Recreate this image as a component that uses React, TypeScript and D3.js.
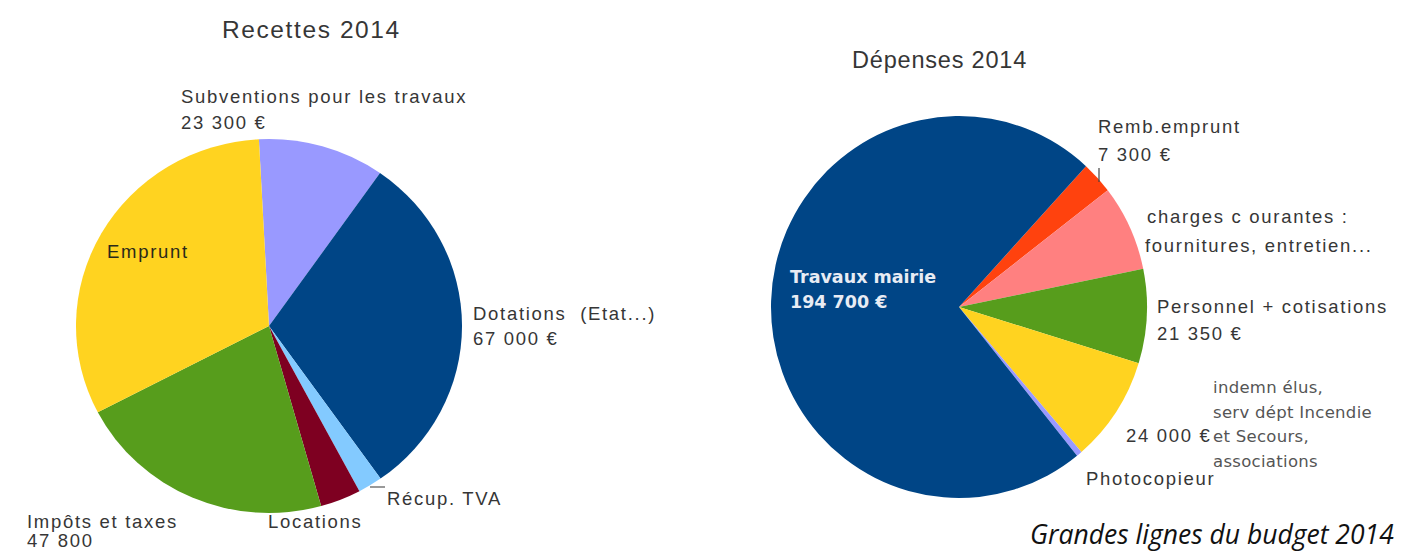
import React from "react";
import * as d3 from "d3";

const recettesCategories = ["Subventions pour les travaux", "Dotations (Etat...)", "Récup. TVA", "Locations", "Impôts et taxes", "Emprunt"];
const recettesValues = [23300, 67000, 4500, 7500, 47800, 70000];
const recettesColors = ["#9999ff", "#004586", "#83caff", "#7e0021", "#579d1c", "#ffd320"];

const depensesCategories = ["Remb.emprunt", "charges courantes", "Personnel + cotisations", "indemn élus, serv dépt Incendie et Secours, associations", "Photocopieur", "Travaux mairie"];
const depensesValues = [7300, 19500, 21350, 24000, 1300, 194700];
const depensesColors = ["#ff420e", "#ff8080", "#579d1c", "#ffd320", "#9999ff", "#004586"];

const LBL = "'Liberation Sans', Arial, sans-serif";
const LS = 1.7;
const FS = 18.5;
const TXT = "#363636";
const DJ = "'DejaVu Sans', sans-serif";

type PieProps = { values: number[]; colors: string[]; cx: number; cy: number; rx: number; ry: number; startDeg: number };

function Pie({ values, colors, cx, cy, rx, ry, startDeg }: PieProps) {
  const start = (startDeg * Math.PI) / 180;
  const pie = d3.pie<number>().sort(null).startAngle(start).endAngle(start + 2 * Math.PI);
  const arc = d3.arc<d3.PieArcDatum<number>>().innerRadius(0).outerRadius(rx);
  const arcs = pie(values);
  return (
    <g transform={`translate(${cx},${cy}) scale(1,${ry / rx})`}>
      {arcs.map((a, i) => (
        <path key={i} d={arc(a) || ""} fill={colors[i]} />
      ))}
    </g>
  );
}

function T({ x, y, children, size = FS, fill = TXT, family = LBL, ls = LS, weight = "normal", style = "normal" }: any) {
  return (
    <text x={x} y={y} fontSize={size} fill={fill} fontFamily={family} letterSpacing={ls} fontWeight={weight} fontStyle={style} style={{ whiteSpace: "pre" }}>
      {children}
    </text>
  );
}

export default function App() {
  return (
    <svg width={1401} height={553} style={{ position: "absolute", left: 0, top: 0, background: "#fff" }}>
      <rect width={1401} height={553} fill="#fff" />
      {/* Recettes */}
      <T x={222} y={38} size={24.5} ls={1.6}>Recettes 2014</T>
      <Pie values={recettesValues} colors={recettesColors} cx={269} cy={326} rx={193} ry={187} startDeg={-3} />
      <T x={181} y={103}>Subventions pour les travaux</T>
      <T x={181} y={129}>23 300 €</T>
      <T x={107} y={258} fill="#2a2a1a">Emprunt</T>
      <T x={473} y={320}>{"Dotations\u00a0 (Etat...)"}</T>
      <T x={473} y={345}>67 000 €</T>
      <line x1={370} y1={487} x2={385} y2={487} stroke="#555" strokeWidth={1.2} />
      <T x={387} y={505}>Récup. TVA</T>
      <T x={268} y={528}>Locations</T>
      <T x={27} y={528}>Impôts et taxes</T>
      <T x={27} y={547}>47 800</T>

      {/* Dépenses */}
      <T x={852} y={68} size={23.5} ls={0.8}>Dépenses 2014</T>
      <Pie values={depensesValues} colors={depensesColors} cx={959} cy={307} rx={188} ry={191} startDeg={42.5} />
      <T x={790} y={283} size={17.5} fill="#e8ecf4" family={DJ} weight="bold" ls={0}>Travaux mairie</T>
      <T x={790} y={308} size={17.5} fill="#e8ecf4" family={DJ} weight="bold" ls={0}>194 700 €</T>
      <T x={1098} y={133}>Remb.emprunt</T>
      <T x={1098} y={161}>7 300 €</T>
      <line x1={1099} y1={168} x2={1099} y2={182} stroke="#444" strokeWidth={1.2} />
      <T x={1147} y={223}>charges c ourantes :</T>
      <T x={1145} y={252}>fournitures, entretien...</T>
      <T x={1157} y={313}>Personnel + cotisations</T>
      <T x={1157} y={340}>21 350 €</T>
      <T x={1213} y={393} size={16.5} fill="#555" family={DJ} ls={0.3}>indemn élus,</T>
      <T x={1213} y={418} size={16.5} fill="#555" family={DJ} ls={0.3}>serv dépt Incendie</T>
      <T x={1126} y={442}>24 000 €</T>
      <T x={1213} y={442} size={16.5} fill="#555" family={DJ} ls={0.3}>et Secours,</T>
      <T x={1213} y={467} size={16.5} fill="#555" family={DJ} ls={0.3}>associations</T>
      <T x={1086} y={485}>Photocopieur</T>

      <T x={1030} y={544} size={26.5} fill="#111" family="'Open Sans', sans-serif" ls={0} style="italic">Grandes lignes du budget 2014</T>
    </svg>
  );
}
